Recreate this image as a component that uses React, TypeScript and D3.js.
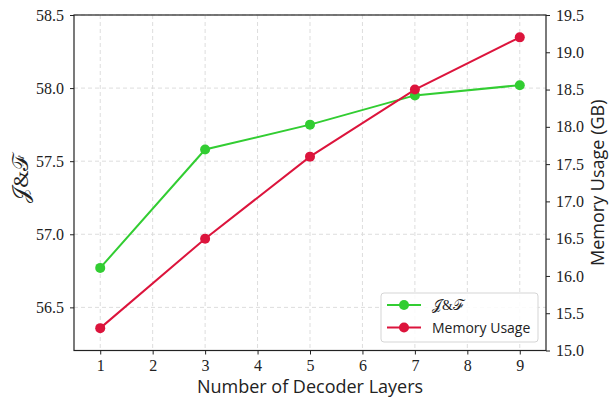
import React, { useEffect, useRef } from 'react';
import * as d3 from 'd3';

const layers = [1, 3, 5, 7, 9];
const jfScores = [56.77, 57.58, 57.75, 57.95, 58.02];
const memoryGB = [15.3, 16.5, 17.6, 18.5, 19.2];
const xTicks = [1, 2, 3, 4, 5, 6, 7, 8, 9];
const leftTicks = [56.5, 57.0, 57.5, 58.0, 58.5];
const rightTicks = [15.0, 15.5, 16.0, 16.5, 17.0, 17.5, 18.0, 18.5, 19.0, 19.5];

const GREEN = '#32cd32';
const RED = '#dc143c';
const SERIF = 'Liberation Serif';
const SANS = 'Open Sans';

const App = () => {
  const svgRef = useRef<SVGSVGElement>(null);

  useEffect(() => {
    const width = 613;
    const height = 399;
    const margin = { top: 15, right: 67, bottom: 48.5, left: 74 };
    const innerWidth = width - margin.left - margin.right;
    const innerHeight = height - margin.top - margin.bottom;

    const svg = d3.select(svgRef.current);
    svg.selectAll('*').remove();

    const g = svg.append('g')
      .attr('transform', `translate(${margin.left},${margin.top})`);

    const x = d3.scaleLinear().domain([0.5, 9.5]).range([0, innerWidth]);
    const yLeft = d3.scaleLinear().domain([56.205, 58.5]).range([innerHeight, 0]);
    const yRight = d3.scaleLinear().domain([15, 19.5]).range([innerHeight, 0]);

    // grid
    const grid = g.append('g')
      .attr('stroke', '#dddddd')
      .attr('stroke-width', 1)
      .attr('stroke-dasharray', '4,3');
    xTicks.forEach(t => {
      grid.append('line')
        .attr('x1', x(t)).attr('x2', x(t))
        .attr('y1', 0).attr('y2', innerHeight);
    });
    leftTicks.forEach(t => {
      grid.append('line')
        .attr('x1', 0).attr('x2', innerWidth)
        .attr('y1', yLeft(t)).attr('y2', yLeft(t));
    });

    // lines
    const lineJF = d3.line<number>()
      .x((_, i) => x(layers[i]))
      .y(d => yLeft(d));
    const lineMem = d3.line<number>()
      .x((_, i) => x(layers[i]))
      .y(d => yRight(d));

    g.append('path')
      .datum(jfScores)
      .attr('d', lineJF)
      .attr('fill', 'none')
      .attr('stroke', GREEN)
      .attr('stroke-width', 2);
    g.selectAll('.dot-jf')
      .data(jfScores)
      .enter()
      .append('circle')
      .attr('cx', (_, i) => x(layers[i]))
      .attr('cy', d => yLeft(d))
      .attr('r', 5)
      .attr('fill', GREEN);

    g.append('path')
      .datum(memoryGB)
      .attr('d', lineMem)
      .attr('fill', 'none')
      .attr('stroke', RED)
      .attr('stroke-width', 2);
    g.selectAll('.dot-mem')
      .data(memoryGB)
      .enter()
      .append('circle')
      .attr('cx', (_, i) => x(layers[i]))
      .attr('cy', d => yRight(d))
      .attr('r', 5)
      .attr('fill', RED);

    // frame
    g.append('rect')
      .attr('width', innerWidth)
      .attr('height', innerHeight)
      .attr('fill', 'none')
      .attr('stroke', '#222')
      .attr('stroke-width', 1.2);

    // axes
    const styleAxis = (sel: any) => {
      sel.attr('font-family', SERIF).attr('font-size', 16);
      sel.select('.domain').remove();
      sel.selectAll('line').attr('stroke', '#222');
      sel.selectAll('text')
        .attr('font-family', SERIF)
        .attr('font-size', 16)
        .attr('fill', '#222');
    };

    g.append('g')
      .attr('transform', `translate(0,${innerHeight})`)
      .call(d3.axisBottom(x).tickValues(xTicks).tickSize(4).tickPadding(5).tickFormat(d3.format('d')))
      .call(styleAxis);

    g.append('g')
      .call(d3.axisLeft(yLeft).tickValues(leftTicks).tickSize(4).tickPadding(6).tickFormat(d3.format('.1f')))
      .call(styleAxis);

    g.append('g')
      .attr('transform', `translate(${innerWidth},0)`)
      .call(d3.axisRight(yRight).tickValues(rightTicks).tickSize(4).tickPadding(6).tickFormat(d3.format('.1f')))
      .call(styleAxis);

    // axis labels
    svg.append('text')
      .attr('x', margin.left + innerWidth / 2)
      .attr('y', 393)
      .attr('text-anchor', 'middle')
      .attr('font-family', SANS)
      .attr('font-size', 18)
      .attr('fill', '#222')
      .text('Number of Decoder Layers');

    svg.append('text')
      .attr('transform', `translate(28,${margin.top + innerHeight / 2 - 4}) rotate(-90)`)
      .attr('text-anchor', 'middle')
      .attr('font-family', SERIF)
      .attr('font-size', 22)
      .attr('fill', '#222')
      .text('𝒥&ℱ');

    svg.append('text')
      .attr('transform', `translate(${width - 9},${margin.top + innerHeight / 2}) rotate(-90)`)
      .attr('text-anchor', 'middle')
      .attr('font-family', SANS)
      .attr('font-size', 18)
      .attr('fill', '#222')
      .text('Memory Usage (GB)');

    // legend
    const legend = svg.append('g').attr('transform', 'translate(381,293)');
    legend.append('rect')
      .attr('width', 157)
      .attr('height', 49)
      .attr('rx', 3)
      .attr('fill', 'rgba(255,255,255,0.85)')
      .attr('stroke', '#d5d5d5');
    const entries = [
      { label: '𝒥&ℱ', color: GREEN, font: SERIF },
      { label: 'Memory Usage', color: RED, font: SANS },
    ];
    entries.forEach((e, i) => {
      const yPos = 12 + i * 22.5;
      legend.append('line')
        .attr('x1', 6).attr('x2', 40)
        .attr('y1', yPos).attr('y2', yPos)
        .attr('stroke', e.color)
        .attr('stroke-width', 2);
      legend.append('circle')
        .attr('cx', 23).attr('cy', yPos).attr('r', 5)
        .attr('fill', e.color);
      legend.append('text')
        .attr('x', 51)
        .attr('y', yPos + 5)
        .attr('font-family', e.font)
        .attr('font-size', 14)
        .attr('fill', '#222')
        .text(e.label);
    });
  }, []);

  return (
    <div style={{ position: 'absolute', left: 0, top: 0 }}>
      <svg ref={svgRef} width={613} height={399} style={{ display: 'block', background: '#fff' }} />
    </div>
  );
};

export default App;
